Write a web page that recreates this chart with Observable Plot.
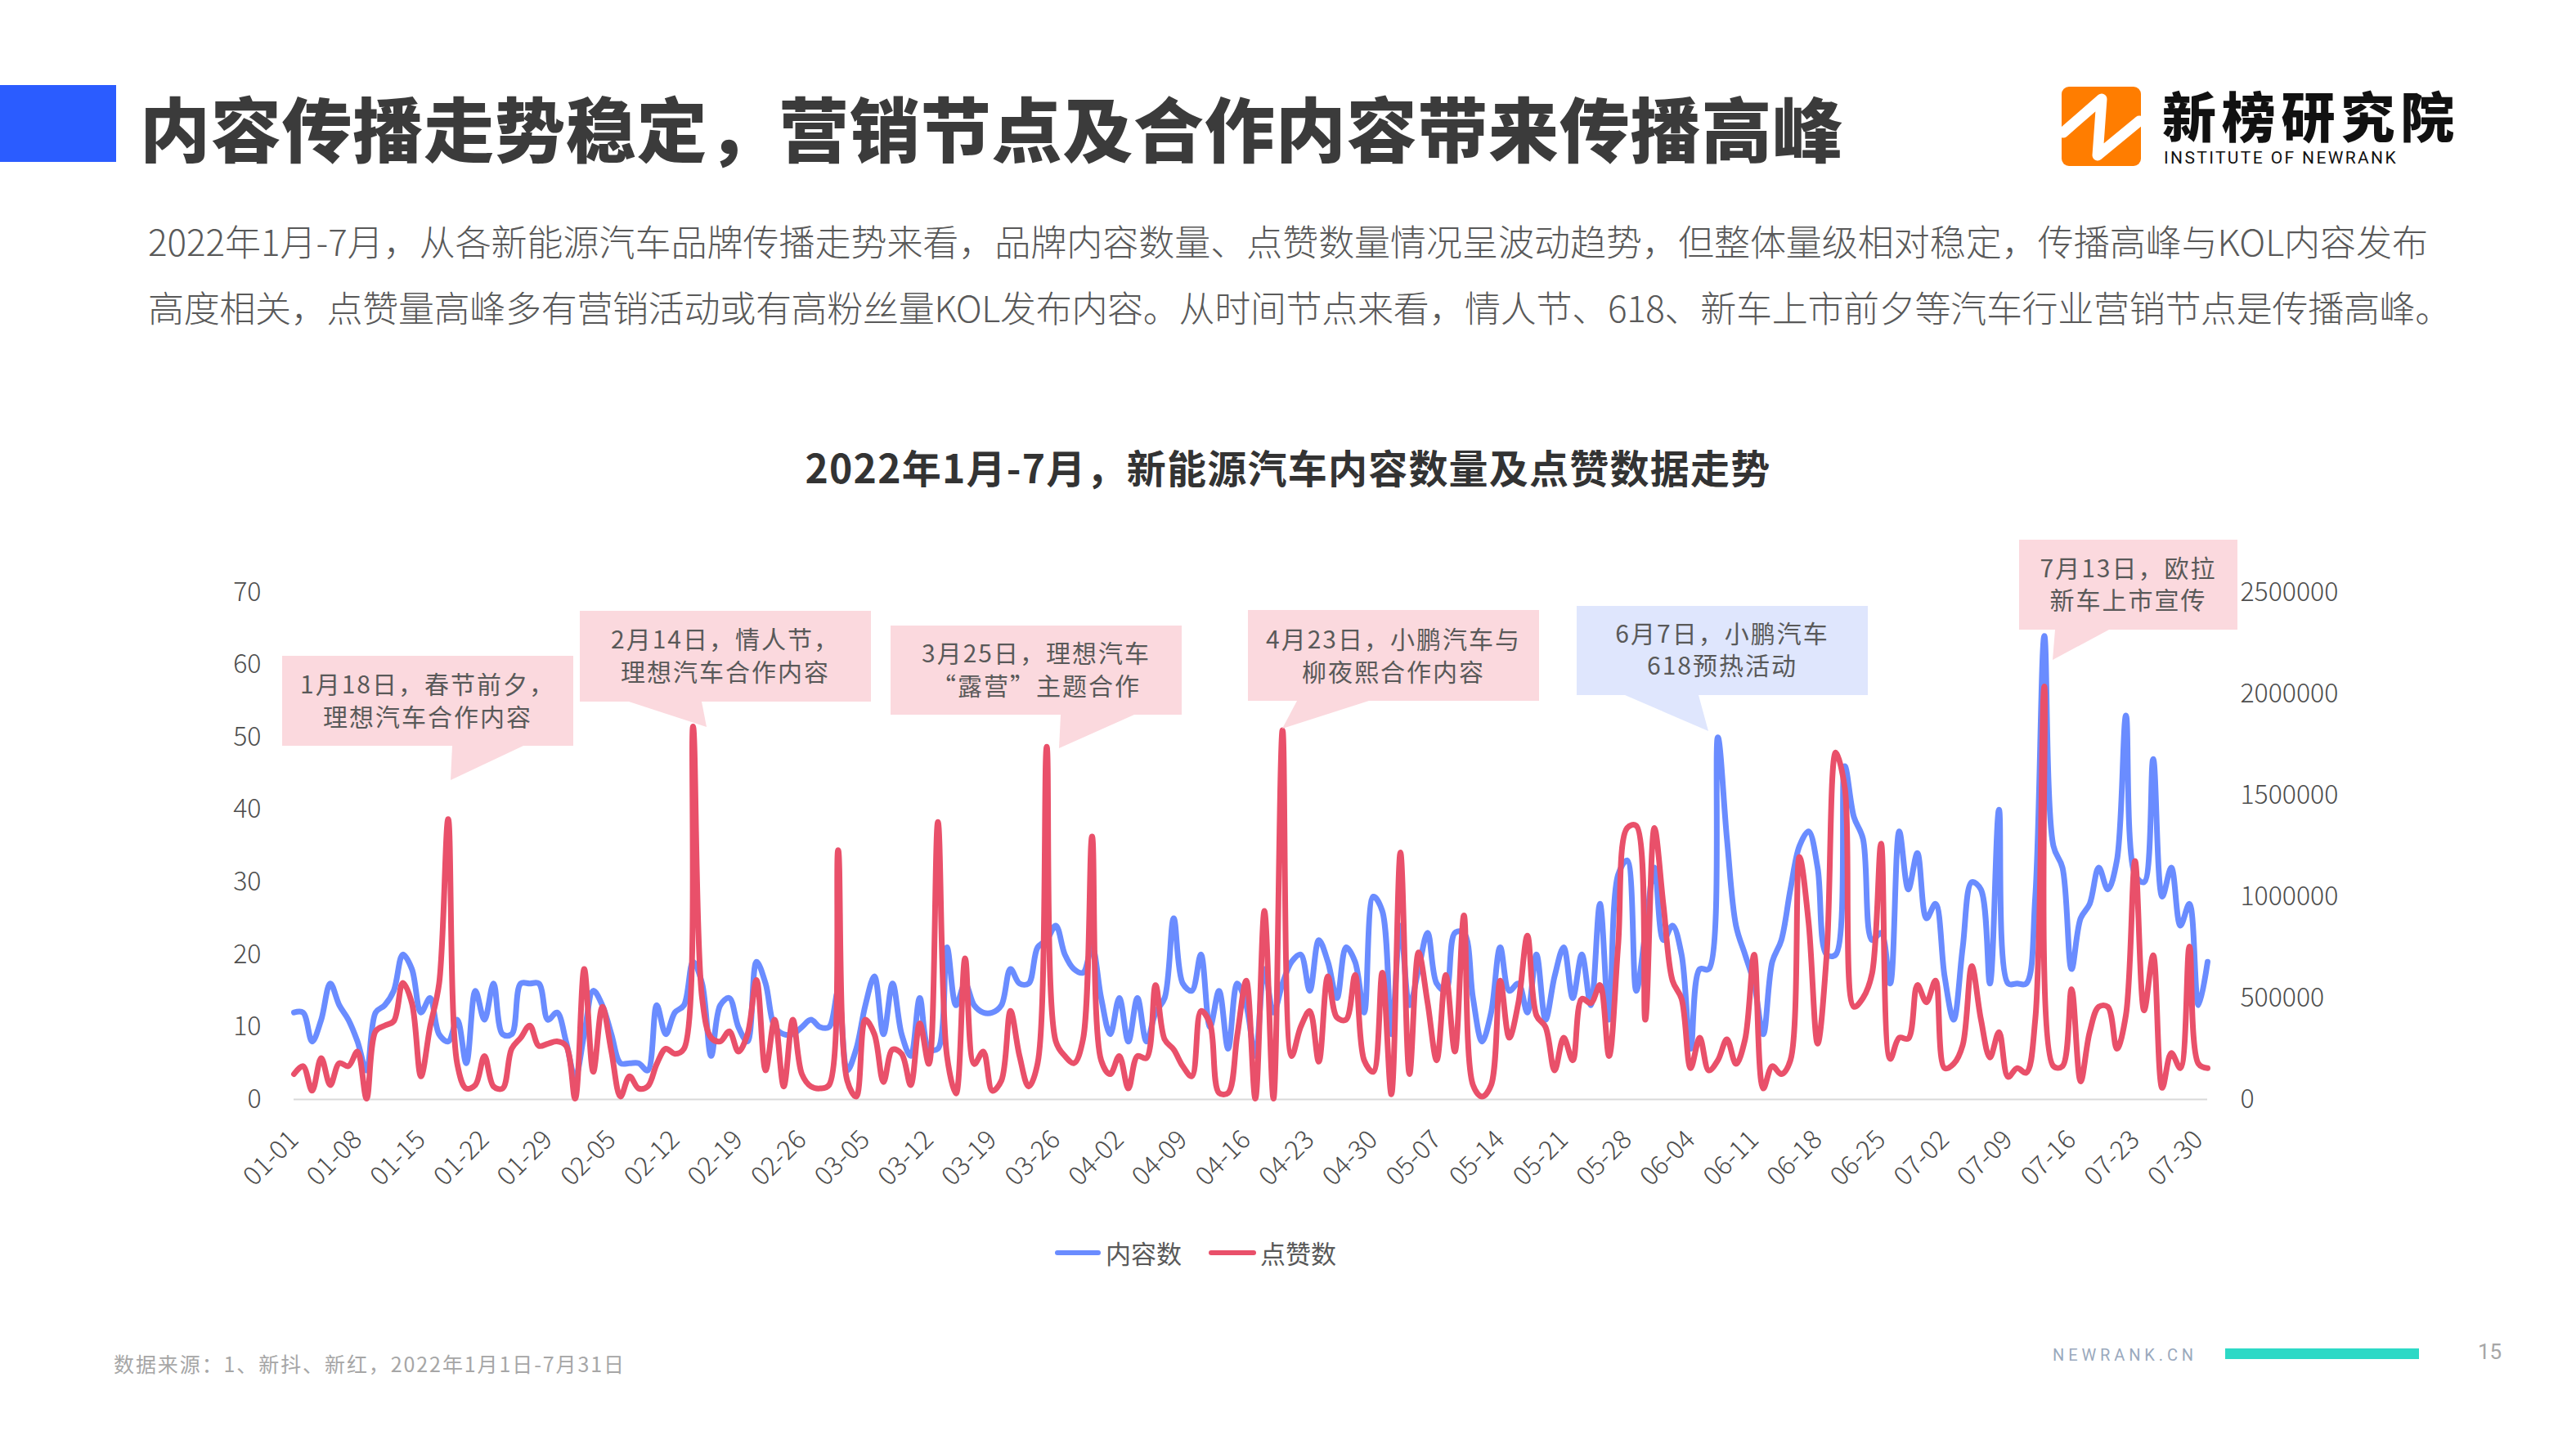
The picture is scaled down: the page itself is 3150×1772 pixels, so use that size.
<!DOCTYPE html>
<html>
<head>
<meta charset="utf-8">
<script src="https://cdn.jsdelivr.net/npm/d3@7"></script>
<script src="https://cdn.jsdelivr.net/npm/@observablehq/plot@0.6"></script>
<style>
  html, body { margin: 0; padding: 0; }
  body { width: 3150px; height: 1772px; position: relative; overflow: hidden; background: #ffffff;
         font-family: "Noto Sans CJK SC", "Noto Sans", sans-serif; }
  .abs { position: absolute; white-space: nowrap; }
  #chart { position: absolute; left: 0; top: 640px; }
</style>
</head>
<body>
<div class="abs" style="left:0;top:104px;width:142px;height:94px;background:#2b5cff"></div>
<div class="abs" id="title" style="left:171px;top:112px;font-size:86px;line-height:86px;font-weight:900;color:#3b3b3b">内容传播走势稳定，营销节点及合作内容带来传播高峰</div>

<svg class="abs" style="left:2521px;top:106px" width="97" height="97" viewBox="0 0 97 97">
  <rect x="0" y="0" width="97" height="97" rx="9" fill="#ff7d00"/>
  <polyline points="2,56 49,15 44,84 95,42" fill="none" stroke="#ffffff" stroke-width="13" stroke-linejoin="round" stroke-linecap="round"/>
</svg>
<div class="abs" id="logoCn" style="left:2644px;top:106px;font-size:66px;line-height:66px;font-weight:900;color:#111">新榜研究院</div>
<div class="abs" id="logoEn" style="left:2646px;top:183px;font-size:21px;line-height:21px;font-family:Roboto,'Liberation Sans',sans-serif;color:#111">INSTITUTE OF NEWRANK</div>

<div class="abs" id="p1" style="left:181px;top:272px;font-size:44px;line-height:44px;color:#595959;font-weight:300">2022年1月-7月，从各新能源汽车品牌传播走势来看，品牌内容数量、点赞数量情况呈波动趋势，但整体量级相对稳定，传播高峰与KOL内容发布</div>
<div class="abs" id="p2" style="left:181px;top:353px;font-size:44px;line-height:44px;color:#595959;font-weight:300">高度相关，点赞量高峰多有营销活动或有高粉丝量KOL发布内容。从时间节点来看，情人节、618、新车上市前夕等汽车行业营销节点是传播高峰。</div>

<div class="abs" id="ctitle" style="left:980px;top:546px;font-size:48px;line-height:48px;font-weight:700;color:#333">2022年1月-7月，新能源汽车内容数量及点赞数据走势</div>

<div id="chart"></div>

<svg class="abs" id="callouts" style="left:0;top:0" width="3150" height="1772"></svg>

<div class="abs" style="left:1290px;top:1529px;width:56px;height:6px;border-radius:3px;background:#6a8cff"></div>
<div class="abs" style="left:1352px;top:1516px;font-size:31px;line-height:31px;color:#595959">内容数</div>
<div class="abs" style="left:1478px;top:1529px;width:58px;height:6px;border-radius:3px;background:#e9506a"></div>
<div class="abs" style="left:1541px;top:1516px;font-size:31px;line-height:31px;color:#595959">点赞数</div>

<div class="abs" id="src" style="left:139px;top:1655px;font-size:25px;line-height:25px;color:#a6a6a6">数据来源：1、新抖、新红，2022年1月1日-7月31日</div>
<div class="abs" id="nr" style="left:2510px;top:1647px;font-size:20px;line-height:20px;color:#9aa9bd;font-family:Roboto,'Liberation Sans',sans-serif">NEWRANK.CN</div>
<div class="abs" style="left:2721px;top:1649px;width:237px;height:13px;background:#2dd9c6"></div>
<div class="abs" style="left:3030px;top:1640px;font-size:26px;line-height:26px;color:#a6a6a6;font-family:Roboto,'Liberation Sans',sans-serif">15</div>

<script>
// ---------------- data ----------------
const startDate = "2022-01-01";
// 内容数 (daily content count, 2022-01-01 .. 2022-07-31)
const contentCount = [
  12,12,8,11,16,13,11,8,4,12,
  13,15,20,18,12,14,9,8,11,5,
  15,11,16,9,9,16,16,16,11,12,
  8,3,9,15,13,9,5,5,5,4,
  13,9,12,13,19,16,6,13,14,10,
  8,19,16,10,9,9,10,11,10,10,
  15,4,7,13,17,9,16,9,6,14,
  7,7,21,13,16,13,12,12,13,18,
  16,16,21,22,24,20,18,17.5,21,14,
  9,14,8,14,8,12,14,25,16,15,
  20,10,15,7,16,13,6,18,12,16,
  19,20,15,22,19,14,21,19,12,28,
  26,9,24,13,18,23,16,15,23,23,
  14,8,12,21,15,16,12,20,11,17,
  21,14,20,13,27,11,31,33,15,23,
  32,22,24,20,7,18,18,50,36,24,
  20,16,9,19,22,29,35,37,32,20,
  20,46,39,36,22,23,16,37,29,34,
  25,27,17,11,21,30,29,16,40,16,
  16,16,28,64,35,32,18,25,27,32,
  29,33,53,31,30,47,28,32,24,27,
  13,19
];
// 点赞数 (daily likes)
const likes = [
  125000,164000,43000,204000,71000,179000,164000,236000,4000,336000,
  364000,386000,575000,475000,114000,357000,571000,1382000,175000,54000,
  71000,214000,64000,54000,250000,304000,364000,264000,275000,286000,
  264000,4000,643000,136000,457000,236000,14000,114000,54000,64000,
  175000,250000,225000,250000,1839000,500000,304000,286000,336000,236000,
  321000,589000,143000,393000,64000,393000,125000,64000,54000,71000,
  1229000,93000,14000,393000,321000,86000,246000,225000,71000,375000,
  175000,1368000,214000,29000,696000,175000,236000,43000,93000,436000,
  214000,64000,179000,1739000,286000,214000,179000,296000,1296000,193000,
  125000,214000,54000,214000,204000,564000,296000,246000,164000,114000,
  436000,375000,32000,32000,314000,586000,4000,929000,4000,1821000,
  214000,357000,436000,186000,607000,404000,393000,614000,193000,136000,
  625000,25000,1218000,125000,725000,475000,193000,614000,236000,907000,
  71000,14000,71000,586000,304000,475000,807000,414000,357000,143000,
  304000,193000,496000,475000,564000,214000,757000,1339000,1350000,393000,
  1339000,957000,586000,496000,154000,304000,143000,193000,296000,175000,
  296000,714000,54000,164000,125000,193000,1196000,875000,275000,714000,
  1711000,1536000,457000,500000,621000,1261000,200000,304000,300000,564000,
  479000,586000,154000,175000,268000,657000,396000,207000,332000,111000,
  154000,132000,396000,2036000,164000,164000,543000,89000,332000,457000,
  457000,250000,418000,1175000,439000,711000,57000,229000,154000,754000,
  175000,154000
];
const leftTicks = [0, 10, 20, 30, 40, 50, 60, 70];
const rightTicks = [0, 500000, 1000000, 1500000, 2000000, 2500000];
const xTickLabels = ["01-01","01-08","01-15","01-22","01-29","02-05","02-12","02-19","02-26","03-05","03-12","03-19","03-26","04-02","04-09","04-16","04-23","04-30","05-07","05-14","05-21","05-28","06-04","06-11","06-18","06-25","07-02","07-09","07-16","07-23","07-30"];
const seriesNames = ["内容数", "点赞数"];
const callouts = [
  {lines: ["1月18日，春节前夕，", "理想汽车合作内容"], color: "pink"},
  {lines: ["2月14日，情人节，", "理想汽车合作内容"], color: "pink"},
  {lines: ["3月25日，理想汽车", "“露营”主题合作"], color: "pink"},
  {lines: ["4月23日，小鹏汽车与", "柳夜熙合作内容"], color: "pink"},
  {lines: ["6月7日，小鹏汽车", "618预热活动"], color: "blue"},
  {lines: ["7月13日，欧拉", "新车上市宣传"], color: "pink"}
];

// ---------------- chart ----------------
const t0 = Date.parse(startDate + "T00:00:00Z");
const dates = contentCount.map((_, i) => new Date(t0 + i * 864e5));
const tickDates = xTickLabels.map(s => new Date(Date.parse("2022-" + s + "T00:00:00Z")));
const ratio = 2500000 / 70;
const fmtMD = d3.utcFormat("%m-%d");
const tickFont = {fontSize: 32, fontWeight: 300, fill: "#4d4d4d"};

const chart = Plot.plot({
  width: 3150,
  height: 840,
  marginLeft: 359,
  marginRight: 451,
  marginTop: 84,
  marginBottom: 136,
  x: {type: "utc", domain: [dates[0], dates[dates.length - 1]]},
  y: {domain: [0, 70]},
  style: {background: "transparent", fontFamily: "'Noto Sans CJK SC', 'Noto Sans', sans-serif", color: "#595959", overflow: "visible"},
  marks: [
    Plot.ruleY([0], {stroke: "#d9d9d9", strokeWidth: 2}),
    Plot.axisY(leftTicks, {anchor: "left", tickSize: 0, tickPadding: 40, ...tickFont, label: null}),
    Plot.axisY(rightTicks.map(v => v / ratio), {anchor: "right", tickSize: 0, tickPadding: 40, ...tickFont, label: null,
      tickFormat: d => String(Math.round(d * ratio / 1000) * 1000)}),
    Plot.axisX(tickDates, {tickRotate: -45, tickSize: 0, tickPadding: 44, ...tickFont, label: null, tickFormat: fmtMD}),
    Plot.lineY(contentCount, {x: (d, i) => dates[i], y: d => d, stroke: "#6a8cff", strokeWidth: 7, curve: "catmull-rom"}),
    Plot.lineY(likes, {x: (d, i) => dates[i], y: d => d / ratio, stroke: "#e9506a", strokeWidth: 7, curve: "catmull-rom"})
  ]
});
document.getElementById("chart").appendChild(chart);

// ---------------- callouts (layout) ----------------
const boxes = [
  {x0: 345, y0: 802, x1: 701, y1: 912, tail: [[553, 912], [551, 954], [640, 912]], ly: [837, 877]},
  {x0: 709, y0: 747, x1: 1065, y1: 858, tail: [[769, 858], [864, 889], [858, 858]], ly: [782, 822]},
  {x0: 1089, y0: 765, x1: 1445, y1: 874, tail: [[1297, 874], [1295, 915], [1387, 874]], ly: [799, 839]},
  {x0: 1526, y0: 746, x1: 1882, y1: 857, tail: [[1586, 857], [1568, 891], [1674, 857]], ly: [782, 822]},
  {x0: 1928, y0: 741, x1: 2284, y1: 850, tail: [[1987, 850], [2089, 894], [2077, 850]], ly: [775, 814]},
  {x0: 2469, y0: 660, x1: 2736, y1: 770, tail: [[2513, 770], [2510, 807], [2579, 770]], ly: [695, 734]}
];
const fills = {pink: "#fbd9de", blue: "#dfe6fd"};
const svg = d3.select("#callouts");
callouts.forEach((c, i) => {
  const b = boxes[i];
  const g = svg.append("g");
  g.append("rect").attr("x", b.x0).attr("y", b.y0).attr("width", b.x1 - b.x0).attr("height", b.y1 - b.y0).attr("fill", fills[c.color]);
  g.append("polygon").attr("points", b.tail.map(p => p.join(",")).join(" ")).attr("fill", fills[c.color]);
  c.lines.forEach((t, j) => {
    g.append("text").attr("x", (b.x0 + b.x1) / 2).attr("y", b.ly[j]).attr("dy", "0.36em")
      .attr("text-anchor", "middle").attr("font-size", 30).attr("letter-spacing", 2)
      .attr("fill", "#595959").attr("font-family", "'Noto Sans CJK SC', sans-serif").text(t);
  });
});

// ---------------- text fitting ----------------
function fit(id, target, center) {
  const el = document.getElementById(id);
  el.style.letterSpacing = "0px";
  const w = el.getBoundingClientRect().width;
  const n = [...el.textContent].length;
  el.style.letterSpacing = ((target - w) / n) + "px";
  if (center !== undefined) el.style.left = (center - target / 2) + "px";
}
fit("title", 2083);
fit("p1", 2788);
fit("p2", 2816);
fit("ctitle", 1181, 1575);
fit("logoCn", 364);
fit("logoEn", 286);
fit("src", 626);
fit("nr", 177);
</script>
</body>
</html>
